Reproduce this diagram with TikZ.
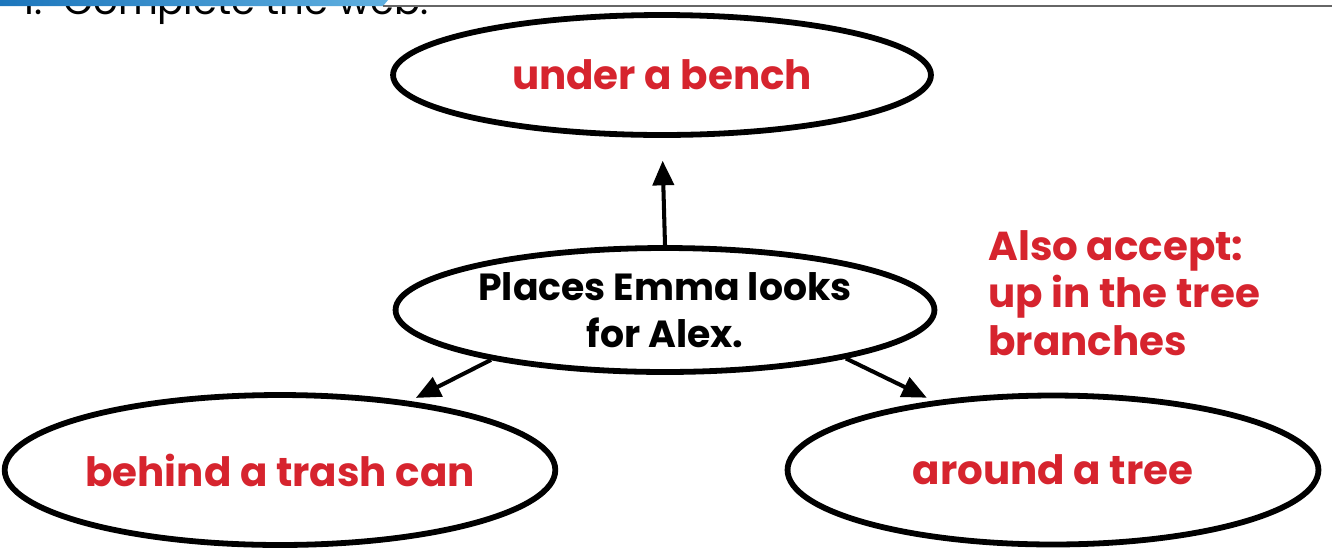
\documentclass[tikz,border=0pt]{standalone}
\usepackage{fontspec}
\setmainfont{Poppins}
\usetikzlibrary{shapes.geometric,arrows.meta}
\definecolor{answer}{RGB}{214,36,46}
\definecolor{bardark}{RGB}{28,118,188}
\definecolor{barlight}{RGB}{96,176,224}
\tikzstyle{bubble}=[ellipse, draw, line width=3.3pt, inner sep=0pt]
\tikzstyle{answertext}=[text=answer, font=\bfseries\fontsize{23}{27}\selectfont]
\tikzstyle{link}=[-{Triangle[length=14pt, width=12pt]}, line width=2.3pt]

\begin{document}
\begin{tikzpicture}[x=0.02cm, y=-0.02cm]
\useasboundingbox (0,0) rectangle (1332,552);
\clip (0,0) rectangle (1332,552);
% Header
    \node[anchor=base west, inner sep=0pt, font=\fontsize{22}{26}\selectfont] (title) at (22,14) {1.\ \ Complete the web.};
    \fill[white] (0,0) rectangle (1332,5);
    \shade[left color=bardark, right color=barlight] (0,0) -- (388,0) -- (383,6) -- (0,6) -- cycle;
    \fill[gray!80!black] (383,5) rectangle (1332,7);
% Bubbles
    \node[bubble, minimum width=10.76cm, minimum height=2.4cm, answertext] (top) at (662,75) {under a bench};
    \node[bubble, minimum width=10.78cm, minimum height=2.48cm, align=center, font=\bfseries\fontsize{21.5}{27}\selectfont] (mid) at (665,310) {Places Emma looks\\for Alex.};
    \node[bubble, minimum width=10.68cm, minimum height=3.0cm, answertext] (left) at (280,470) {behind a trash can};
    \node[bubble, minimum width=10.62cm, minimum height=2.98cm, answertext] (right) at (1053,470) {around a tree};
% Arrows
    \draw[link, shorten >=13pt] (mid.north) -- (top.south);
    \draw[link, shorten >=4pt] (mid.196) -- (left.28);
    \draw[link, shorten >=4pt] (mid.345) -- (right.150);
% Note
    \node[answertext, anchor=west, align=left, inner sep=0pt] (note) at (988,293) {Also accept:\\up in the tree\\branches};
\end{tikzpicture}
\end{document}
